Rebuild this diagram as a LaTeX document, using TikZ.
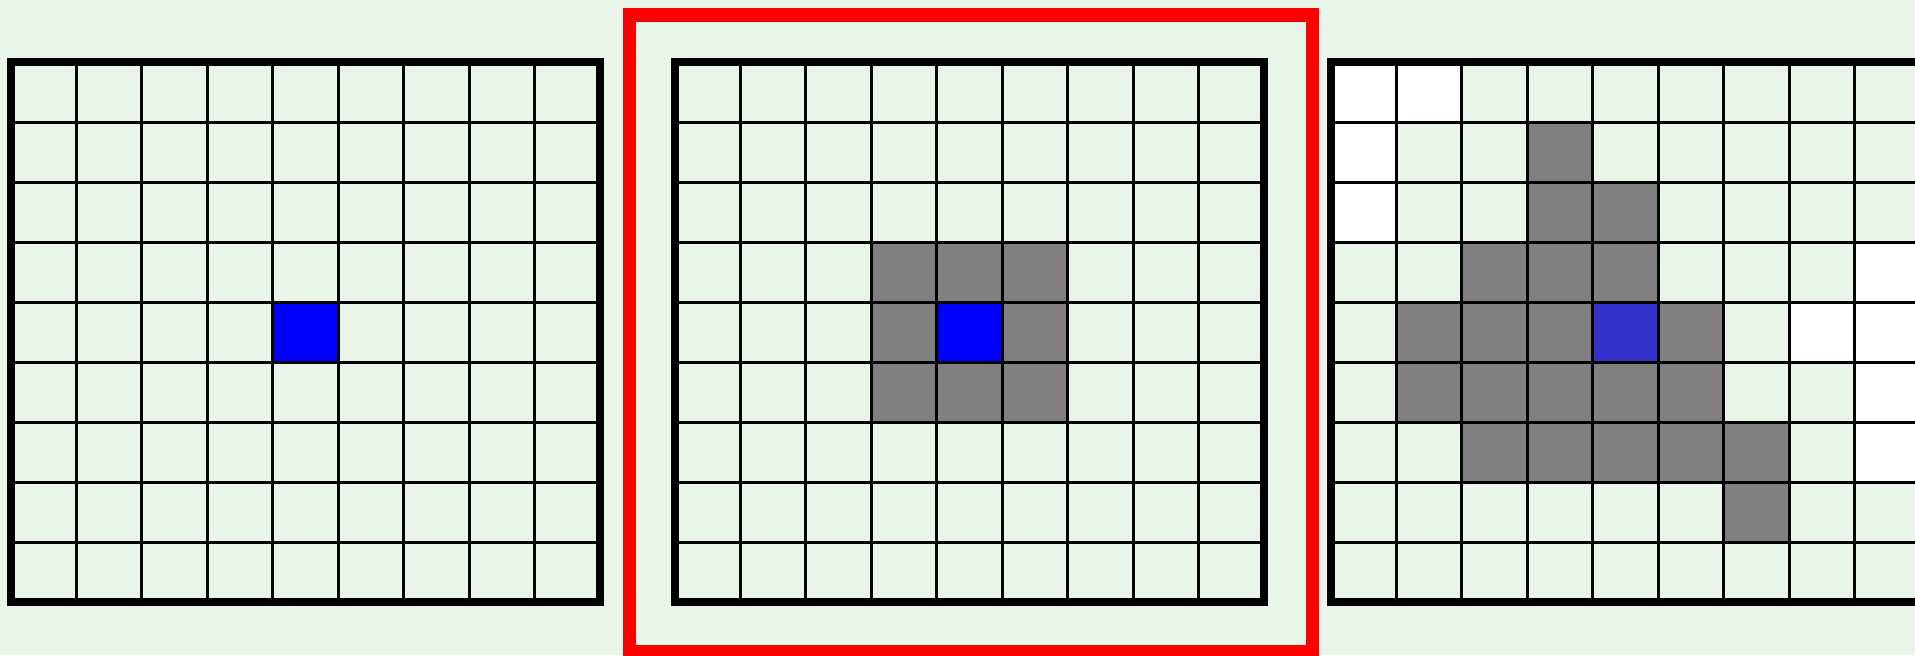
\documentclass[tikz,border=0pt]{standalone}
\usepackage{tikz}
\definecolor{cbg}{HTML}{EAF5EA}
\definecolor{cgrey}{HTML}{808080}
\definecolor{cblue}{HTML}{0000FF}
\definecolor{cdeep}{HTML}{3333CC}
\definecolor{cred}{HTML}{FF0000}
\tikzset{
  cellline/.style={black,line width=1.5pt},
  gridframe/.style={black,line width=4pt},
}
\begin{document}
\begin{tikzpicture}[x=0.5pt,y=0.5pt]
  \fill[cbg,use as bounding box] (0,0) rectangle (1915,655);
  \clip (0,0) rectangle (1915,655);
  \begin{scope}[shift={(5.5pt,26.5pt)},x=32.722pt,y=30pt]
  \fill[cblue] (4,4) rectangle (5,5);
  \foreach \k in {1,...,8}{\draw[cellline] (\k,0) -- (\k,9); \draw[cellline] (0,\k) -- (9,\k);}
  \draw[gridframe] (0,0) rectangle (9,9);
  \end{scope}
  \begin{scope}[shift={(337.5pt,26.5pt)},x=32.722pt,y=30pt]
  \foreach \c/\r in {3/3,4/3,5/3,3/4,5/4,3/5,4/5,5/5}{\fill[cgrey] (\c,\r) rectangle ++(1,1);}
  \fill[cblue] (4,4) rectangle (5,5);
  \foreach \k in {1,...,8}{\draw[cellline] (\k,0) -- (\k,9); \draw[cellline] (0,\k) -- (9,\k);}
  \draw[gridframe] (0,0) rectangle (9,9);
  \end{scope}
  \begin{scope}[shift={(665.5pt,26.5pt)},x=32.722pt,y=30pt]
  \foreach \c/\r in {0/8,1/8,0/7,0/6,8/5,7/4,8/4,8/3,8/2}{\fill[white] (\c,\r) rectangle ++(1,1);}
  \foreach \c/\r in {3/7,3/6,4/6,2/5,3/5,4/5,1/4,2/4,3/4,5/4,1/3,2/3,3/3,4/3,5/3,2/2,3/2,4/2,5/2,6/2,6/1}{\fill[cgrey] (\c,\r) rectangle ++(1,1);}
  \fill[cdeep] (4,4) rectangle (5,5);
  \foreach \k in {1,...,8}{\draw[cellline] (\k,0) -- (\k,9); \draw[cellline] (0,\k) -- (9,\k);}
  \draw[gridframe] (0,0) rectangle (9,9);
  \end{scope}
  \draw[cred,line width=6.75pt] (629.5,3) rectangle (1312.5,640);
\end{tikzpicture}
\end{document}
